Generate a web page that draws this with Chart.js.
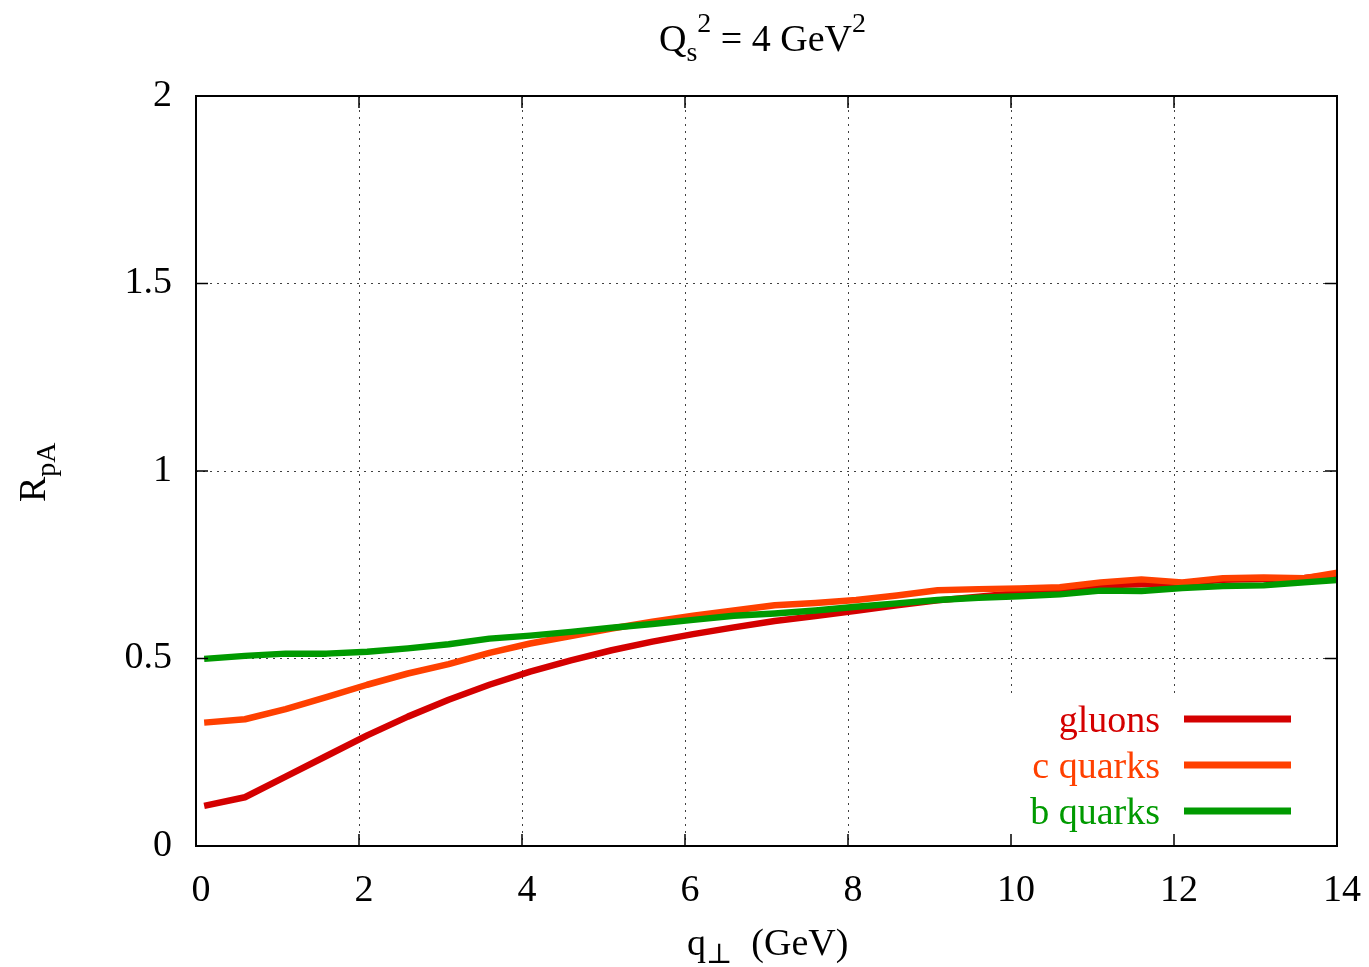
<!DOCTYPE html>
<html>
<head>
<meta charset="utf-8">
<script src="https://cdn.jsdelivr.net/npm/chart.js@4/dist/chart.umd.min.js"></script>
<style>
  html, body { margin:0; padding:0; background:#fff; }
  #wrap { width:1369px; height:967px; }
</style>
</head>
<body>
<div id="wrap"><canvas id="rpa" width="1369" height="967"></canvas></div>
<script>
// R_pA vs q_perp, Qs^2 = 4 GeV^2
const qPerp   = [0.1, 0.6, 1.1, 1.6, 2.1, 2.6, 3.1, 3.6, 4.1, 4.6, 5.1, 5.6, 6.1, 6.6, 7.1, 7.6, 8.1, 8.6, 9.1, 9.6, 10.1, 10.6, 11.1, 11.6, 12.1, 12.6, 13.1, 13.6, 14.1];
const gluons  = [0.107, 0.130, 0.185, 0.240, 0.295, 0.345, 0.390, 0.430, 0.465, 0.495, 0.522, 0.545, 0.565, 0.583, 0.600, 0.613, 0.627, 0.642, 0.655, 0.665, 0.675, 0.685, 0.695, 0.698, 0.700, 0.710, 0.712, 0.715, 0.725];
const cQuarks = [0.329, 0.338, 0.365, 0.397, 0.430, 0.460, 0.485, 0.515, 0.540, 0.560, 0.580, 0.598, 0.614, 0.628, 0.642, 0.648, 0.656, 0.668, 0.682, 0.685, 0.687, 0.690, 0.703, 0.711, 0.703, 0.714, 0.716, 0.714, 0.732];
const bQuarks = [0.499, 0.507, 0.513, 0.513, 0.518, 0.527, 0.538, 0.553, 0.561, 0.571, 0.582, 0.592, 0.603, 0.614, 0.620, 0.628, 0.638, 0.647, 0.656, 0.662, 0.666, 0.671, 0.681, 0.680, 0.688, 0.693, 0.695, 0.703, 0.711];

const xTicks = [0, 2, 4, 6, 8, 10, 12, 14];
const yTicks = [0, 0.5, 1, 1.5, 2];

const seriesNames  = ['gluons', 'c quarks', 'b quarks'];
const seriesColors = ['#d40000', '#ff4000', '#009a00'];

const SERIF = '"Liberation Serif", "Times New Roman", "DejaVu Serif", serif';
const FS = 38, FS_SMALL = 28;

function pts(ys){ return qPerp.map((x,i)=>({x, y: ys[i]})); }

// draw a run of text pieces (normal / sub / superscript) from a start x
function richText(ctx, parts, x, y){
  parts.forEach(p=>{
    ctx.font = p.size + 'px ' + SERIF;
    ctx.fillText(p.t, x, y + (p.dy || 0));
    x += ctx.measureText(p.t).width;
  });
  return x;
}
function richWidth(ctx, parts){
  let w = 0;
  parts.forEach(p=>{ ctx.font = p.size + 'px ' + SERIF; w += ctx.measureText(p.t).width; });
  return w;
}

const gnuplotLook = {
  id: 'gnuplotLook',
  beforeDatasetsDraw(chart){
    // opaque key box over the grid
    const ctx = chart.ctx, a = chart.chartArea;
    ctx.save();
    ctx.fillStyle = '#fff';
    ctx.fillRect(997, 695, a.right - 997, a.bottom - 695);
    ctx.restore();
  },
  afterDraw(chart){
    const ctx = chart.ctx, a = chart.chartArea;
    const xs = chart.scales.x, ys = chart.scales.y;
    ctx.save();

    // frame
    ctx.strokeStyle = '#000';
    ctx.lineWidth = 2;
    ctx.strokeRect(a.left, a.top, a.right - a.left, a.bottom - a.top);

    // inward ticks on all four sides
    const tl = 12;
    ctx.lineWidth = 1.5;
    ctx.beginPath();
    xTicks.forEach(v=>{
      const px = xs.getPixelForValue(v);
      ctx.moveTo(px, a.bottom); ctx.lineTo(px, a.bottom - tl);
      ctx.moveTo(px, a.top);    ctx.lineTo(px, a.top + tl);
    });
    yTicks.forEach(v=>{
      const py = ys.getPixelForValue(v);
      ctx.moveTo(a.left, py);  ctx.lineTo(a.left + tl, py);
      ctx.moveTo(a.right, py); ctx.lineTo(a.right - tl, py);
    });
    ctx.stroke();

    // key
    const keyY = [719, 765, 811];
    seriesNames.forEach((name, i)=>{
      ctx.fillStyle = seriesColors[i];
      ctx.font = FS + 'px ' + SERIF;
      ctx.textAlign = 'right';
      ctx.textBaseline = 'alphabetic';
      ctx.fillText(name, 1160, keyY[i] + 13);
      ctx.strokeStyle = seriesColors[i];
      ctx.lineWidth = 7;
      ctx.beginPath();
      ctx.moveTo(1184, keyY[i]); ctx.lineTo(1291, keyY[i]);
      ctx.stroke();
    });

    ctx.fillStyle = '#000';
    ctx.textAlign = 'left';
    ctx.textBaseline = 'alphabetic';

    // title  Q_s^2 = 4 GeV^2
    const title = [
      {t:'Q', size:FS},
      {t:'s', size:FS_SMALL, dy:10},
      {t:'2', size:FS_SMALL, dy:-19},
      {t:' = 4 GeV', size:FS},
      {t:'2', size:FS_SMALL, dy:-19}
    ];
    richText(ctx, title, 659, 51);

    // x axis label  q_perp (GeV)
    const xl = [
      {t:'q', size:FS},
      {t:'\u22A5', size:FS_SMALL, dy:8},
      {t:'  (GeV)', size:FS}
    ];
    richText(ctx, xl, 687, 955);

    // y axis label  R_pA
    ctx.translate(45, 502);
    ctx.rotate(-Math.PI / 2);
    richText(ctx, [{t:'R', size:FS}, {t:'pA', size:FS_SMALL, dy:10}], 0, 0);

    ctx.restore();
  }
};

const gridColor = c => (c.tick && (c.tick.value === c.scale.min || c.tick.value === c.scale.max)) ? 'rgba(0,0,0,0)' : 'rgba(0,0,0,0.75)';

new Chart(document.getElementById('rpa'), {
  type: 'line',
  data: {
    datasets: [
      { label: seriesNames[0], data: pts(gluons),  borderColor: seriesColors[0], order: 2 },
      { label: seriesNames[1], data: pts(cQuarks), borderColor: seriesColors[1], order: 1 },
      { label: seriesNames[2], data: pts(bQuarks), borderColor: seriesColors[2], order: 0 }
    ]
  },
  options: {
    responsive: false,
    animation: false,
    devicePixelRatio: 1,
    layout: { padding: { top: 96, right: 32, left: 0, bottom: 0 } },
    elements: {
      line: { borderWidth: 6.5, tension: 0, fill: false, borderJoinStyle: 'round' },
      point: { radius: 0, hoverRadius: 0 }
    },
    scales: {
      x: {
        type: 'linear', min: 0, max: 14,
        afterBuildTicks: s => { s.ticks = xTicks.map(v => ({ value: v })); },
        afterFit: s => { s.height = 121; s.paddingLeft = 0; s.paddingRight = 0; },
        grid: { color: gridColor, lineWidth: 1, drawTicks: false },
        border: { display: false, dash: [2, 5] },
        ticks: { color: '#000', font: { family: SERIF, size: FS }, padding: 22, labelOffset: 5, maxRotation: 0 }
      },
      y: {
        type: 'linear', min: 0, max: 2,
        afterBuildTicks: s => { s.ticks = yTicks.map(v => ({ value: v })); },
        afterFit: s => { s.width = 196; s.paddingTop = 0; s.paddingBottom = 0; },
        grid: { color: gridColor, lineWidth: 1, drawTicks: false },
        border: { display: false, dash: [2, 5] },
        ticks: { color: '#000', font: { family: SERIF, size: FS }, padding: 24, callback: v => String(v) }
      }
    },
    plugins: {
      legend: { display: false },
      tooltip: { enabled: false },
      title: { display: false }
    }
  },
  plugins: [gnuplotLook]
});
</script>
</body>
</html>
